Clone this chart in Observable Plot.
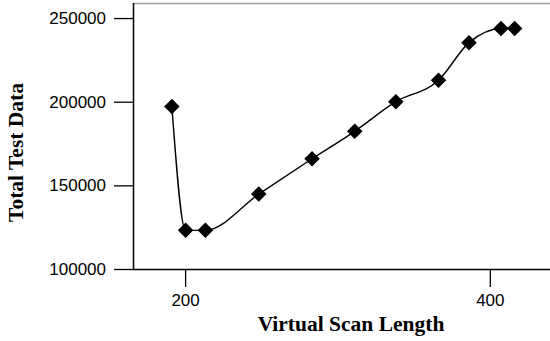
<!DOCTYPE html>
<html>
<head>
<meta charset="utf-8">
<script src="https://cdn.jsdelivr.net/npm/d3@7"></script>
<script src="https://cdn.jsdelivr.net/npm/@observablehq/plot@0.6"></script>
<style>
  html, body { margin: 0; padding: 0; background: #fff; }
</style>
</head>
<body>
<div id="chart"></div>
<script>
const scanLength = [191, 200, 213, 248, 283, 311, 338, 366, 386, 407, 416];
const totalTestData = [197400, 123400, 123400, 145100, 166200, 182600, 200300, 213100, 235600, 244100, 244100];
const xTicks = [200, 400];
const yTicks = [100000, 150000, 200000, 250000];
const xLabel = "Virtual Scan Length";
const yLabel = "Total Test Data";

const data = scanLength.map((x, i) => ({x, y: totalTestData[i]}));
const xDomain = [165.8, 439.5];
const yDomain = [100000, 259000];

const chart = Plot.plot({
  width: 550,
  height: 341,
  marginLeft: 133,
  marginRight: 0,
  marginTop: 3,
  marginBottom: 72,
  style: {fontFamily: "Liberation Sans", fontSize: "17px", color: "#000", background: "#fff"},
  x: {domain: xDomain},
  y: {domain: yDomain},
  marks: [
    Plot.ruleY([yDomain[1]], {stroke: "#a0a0a0", strokeWidth: 1.5}),
    Plot.ruleY([yDomain[0]], {stroke: "#000", strokeWidth: 1.5}),
    Plot.ruleX([xDomain[0]], {stroke: "#000", strokeWidth: 1.5}),
    Plot.axisX({ticks: xTicks, tickSize: 18, tickPadding: 6, tickFormat: d3.format("d"), label: null, fontSize: 17, strokeWidth: 1.3}),
    Plot.axisY({ticks: yTicks, tickSize: 19, tickPadding: 8.5, tickFormat: d3.format("d"), label: null, fontSize: 17, strokeWidth: 1.3}),
    Plot.line(data, {x: "x", y: "y", curve: "monotone-x", stroke: "#000", strokeWidth: 1.4}),
    Plot.dot(data, {x: "x", y: "y", symbol: "diamond2", r: 7, fill: "#000", stroke: "none"}),
    Plot.text([xLabel], {text: d => d, frameAnchor: "bottom", textAnchor: "middle", lineAnchor: "middle", dx: 9, dy: 55, fontFamily: "Liberation Serif", fontWeight: "bold", fontSize: 21.5}),
    Plot.text([yLabel], {text: d => d, frameAnchor: "left", textAnchor: "middle", lineAnchor: "middle", rotate: -90, dx: -117, dy: 16, fontFamily: "Liberation Serif", fontWeight: "bold", fontSize: 21.5})
  ]
});
document.getElementById("chart").appendChild(chart);
</script>
</body>
</html>
